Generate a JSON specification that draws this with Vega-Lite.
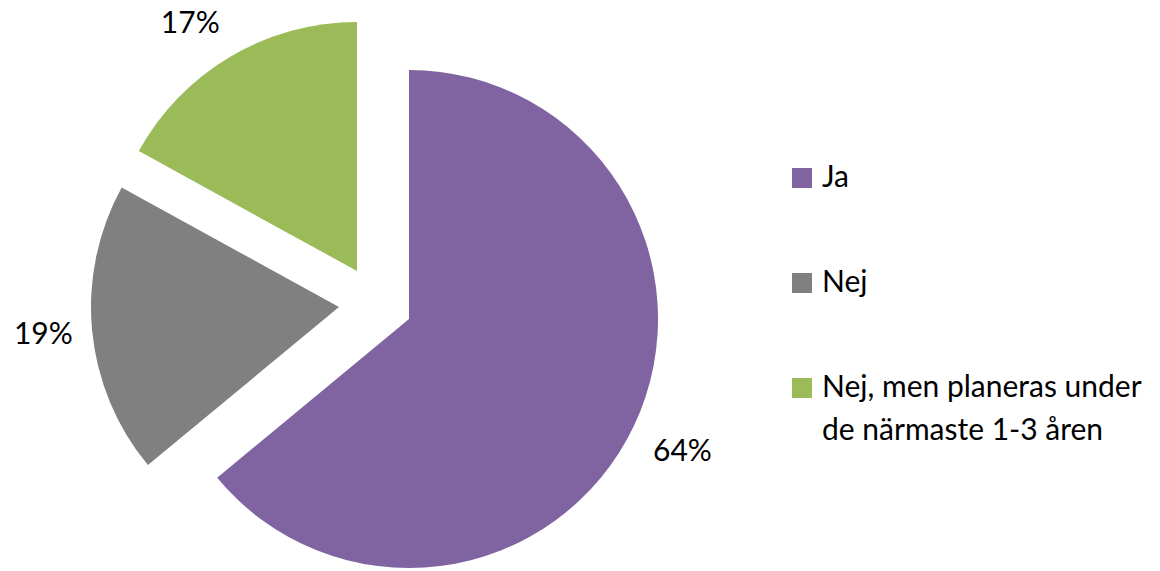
{
  "$schema": "https://vega.github.io/schema/vega-lite/v6.json",
  "autosize": "none",
  "width": 818,
  "height": 502,
  "padding": {"left": 0, "top": 68, "right": 342, "bottom": 1},
  "background": "white",
  "config": {"view": {"stroke": null}, "font": "Lato"},
  "data": {"values": [
    {"cat": "Ja", "value": 0.64},
    {"cat": "Nej", "value": 0.19},
    {"cat": "Nej, men planeras under de närmaste 1-3 åren", "value": 0.17}
  ]},
  "encoding": {
    "theta": {"field": "value", "type": "quantitative", "stack": true},
    "order": {"field": "cat", "sort": "ascending"}
  },
  "layer": [
    {
      "mark": {"type": "arc", "outerRadius": 249, "xOffset": 0, "yOffset": 0},
      "encoding": {
        "color": {
          "field": "cat", "type": "nominal",
          "scale": {"domain": ["Ja", "Nej", "Nej, men planeras under de närmaste 1-3 åren"], "range": ["#8064A2", "#808080", "#9BBB59"]},
          "legend": {
            "title": null, "orient": "none", "legendX": 787, "legendY": 95, "padding": 0,
            "symbolType": "square", "symbolSize": 400, "symbolStrokeWidth": 0,
            "labelFont": "Lato", "labelFontSize": 30, "labelColor": "#000000",
            "labelLimit": 400, "rowPadding": 75, "labelOffset": 5,
            "labelExpr": "datum.label == 'Nej, men planeras under de närmaste 1-3 åren' ? ['Nej, men planeras under', 'de närmaste  1-3 åren'] : datum.label",
            "encode": {"labels": {"update": {"lineHeight": {"value": 43}}}}
          }
        },
        "fillOpacity": {"condition": {"test": "datum.cat === 'Ja'", "value": 1}, "value": 0}
      }
    },
    {
      "mark": {"type": "arc", "outerRadius": 248, "xOffset": -70, "yOffset": -12},
      "encoding": {
        "color": {"field": "cat", "type": "nominal"},
        "fillOpacity": {"condition": {"test": "datum.cat === 'Nej'", "value": 1}, "value": 0}
      }
    },
    {
      "mark": {"type": "arc", "outerRadius": 249, "xOffset": -52, "yOffset": -48},
      "encoding": {
        "color": {"field": "cat", "type": "nominal"},
        "fillOpacity": {"condition": {"test": "datum.cat === 'Nej, men planeras under de närmaste 1-3 åren'", "value": 1}, "value": 0}
      }
    },
    {
      "mark": {"type": "text", "radius": 300, "fontSize": 30, "font": "Lato", "color": "#000000", "xOffset": 2, "yOffset": 5},
      "encoding": {
        "text": {"field": "value", "type": "quantitative", "format": ".0%"},
        "opacity": {"condition": {"test": "datum.cat === 'Ja'", "value": 1}, "value": 0}
      }
    },
    {
      "mark": {"type": "text", "radius": 300, "fontSize": 30, "font": "Lato", "color": "#000000", "xOffset": -67, "yOffset": -12},
      "encoding": {
        "text": {"field": "value", "type": "quantitative", "format": ".0%"},
        "opacity": {"condition": {"test": "datum.cat === 'Nej'", "value": 1}, "value": 0}
      }
    },
    {
      "mark": {"type": "text", "radius": 300, "fontSize": 30, "font": "Lato", "color": "#000000", "xOffset": -66, "yOffset": -37},
      "encoding": {
        "text": {"field": "value", "type": "quantitative", "format": ".0%"},
        "opacity": {"condition": {"test": "datum.cat === 'Nej, men planeras under de närmaste 1-3 åren'", "value": 1}, "value": 0}
      }
    }
  ]
}
